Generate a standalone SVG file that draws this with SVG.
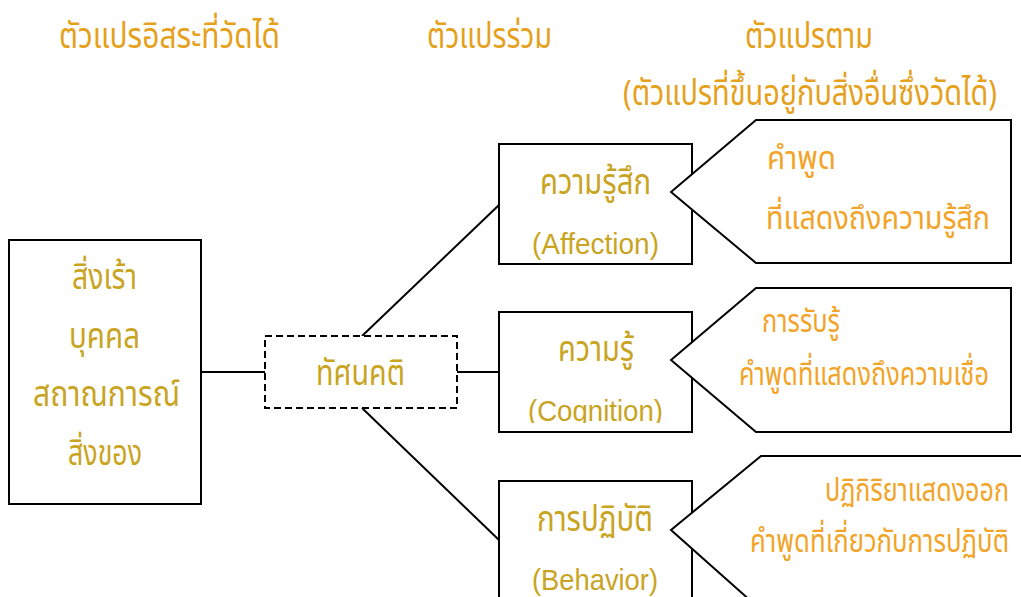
<svg xmlns="http://www.w3.org/2000/svg" width="1021" height="597" viewBox="0 0 1021 597">
<style>
.th{font-family:"Noto Sans Thai","Noto Sans","DejaVu Sans",sans-serif;}
.en{font-family:"Liberation Sans",Arial,sans-serif;fill:#C9A422;font-size:29px;}
.hd{fill:#E6A11C;font-size:35px;}
.bx{fill:#C9A422;font-size:35px;}
.co{fill:#F2A428;font-size:32px;}
.box{fill:#FFFFFF;stroke:#000000;stroke-width:2;}
.dash{fill:#FFFFFF;stroke:#000000;stroke-width:2;stroke-dasharray:7 4;}
.ln{stroke:#000000;stroke-width:2;fill:none;}
</style>
<defs>
<clipPath id="clipCog"><rect x="500" y="313" width="190" height="110"/></clipPath>
</defs>
<rect width="1021" height="597" fill="#FFFFFF"/>

<g id="headers">
<text class="th hd" x="59" y="48" textLength="221" lengthAdjust="spacingAndGlyphs">ตัวแปรอิสระที่วัดได้</text>
<text class="th hd" x="427" y="48" textLength="125" lengthAdjust="spacingAndGlyphs">ตัวแปรร่วม</text>
<text class="th hd" x="745" y="48" textLength="128" lengthAdjust="spacingAndGlyphs">ตัวแปรตาม</text>
<text class="th hd" transform="translate(623,105) scale(0.7,1)" x="0" y="0" textLength="534.3" lengthAdjust="spacingAndGlyphs">(ตัวแปรที่ขึ้นอยู่กับสิ่งอื่นซึ่งวัดได้)</text>
</g>

<g id="connectors">
<line class="ln" x1="201" y1="372" x2="265" y2="372"/>
<line class="ln" x1="362" y1="336" x2="499" y2="205"/>
<line class="ln" x1="457" y1="372" x2="499" y2="372"/>
<line class="ln" x1="362" y1="408" x2="499" y2="540"/>
</g>

<g id="stimulus">
<rect class="box" x="9" y="240" width="192" height="264"/>
<text class="th bx" x="72" y="289" textLength="65" lengthAdjust="spacingAndGlyphs">สิ่งเร้า</text>
<text class="th bx" x="69" y="348" textLength="71" lengthAdjust="spacingAndGlyphs">บุคคล</text>
<text class="th bx" x="33" y="406" textLength="147" lengthAdjust="spacingAndGlyphs">สถาณการณ์</text>
<text class="th bx" x="68" y="465" textLength="74" lengthAdjust="spacingAndGlyphs">สิ่งของ</text>
</g>

<g id="attitude">
<rect class="dash" x="265" y="336" width="192" height="72"/>
<text class="th bx" x="316" y="385" textLength="89" lengthAdjust="spacingAndGlyphs">ทัศนคติ</text>
</g>

<g id="affection">
<rect class="box" x="499" y="144" width="193" height="120"/>
<text class="th bx" x="540" y="194" textLength="111" lengthAdjust="spacingAndGlyphs">ความรู้สึก</text>
<text class="en" x="532" y="254" textLength="127" lengthAdjust="spacingAndGlyphs">(Affection)</text>
</g>

<g id="cognition">
<rect class="box" x="499" y="312" width="193" height="120"/>
<text class="th bx" x="558" y="361" textLength="76" lengthAdjust="spacingAndGlyphs">ความรู้</text>
<text class="en" x="528" y="421" textLength="135" lengthAdjust="spacingAndGlyphs" clip-path="url(#clipCog)">(Cognition)</text>
</g>

<g id="behavior">
<rect class="box" x="499" y="481" width="193" height="130"/>
<text class="th bx" x="537" y="531" textLength="116" lengthAdjust="spacingAndGlyphs">การปฏิบัติ</text>
<text class="en" x="532" y="590" textLength="126" lengthAdjust="spacingAndGlyphs">(Behavior)</text>
</g>

<g id="callout-affection">
<polygon class="box" points="756,120 1011,120 1011,263 756,263 671,192"/>
<text class="th co" x="767" y="169" textLength="69" lengthAdjust="spacingAndGlyphs">คำพูด</text>
<text class="th co" transform="translate(766,229) scale(0.7,1)" x="0" y="0" textLength="320" lengthAdjust="spacingAndGlyphs">ที่แสดงถึงความรู้สึก</text>
</g>

<g id="callout-cognition">
<polygon class="box" points="756,288 1011,288 1011,432 756,432 671,360"/>
<text class="th co" x="762" y="332" textLength="78" lengthAdjust="spacingAndGlyphs">การรับรู้</text>
<text class="th co" transform="translate(739,385) scale(0.7,1)" x="0" y="0" textLength="357.1" lengthAdjust="spacingAndGlyphs">คำพูดที่แสดงถึงความเชื่อ</text>
</g>

<g id="callout-behavior">
<polygon class="box" points="761,456 1030,456 1030,610 761,610 671,530"/>
<text class="th co" transform="translate(825,501) scale(0.7,1)" x="0" y="0" textLength="262.9" lengthAdjust="spacingAndGlyphs">ปฏิกิริยาแสดงออก</text>
<text class="th co" transform="translate(750,552) scale(0.7,1)" x="0" y="0" textLength="370" lengthAdjust="spacingAndGlyphs">คำพูดที่เกี่ยวกับการปฏิบัติ</text>
</g>
</svg>
